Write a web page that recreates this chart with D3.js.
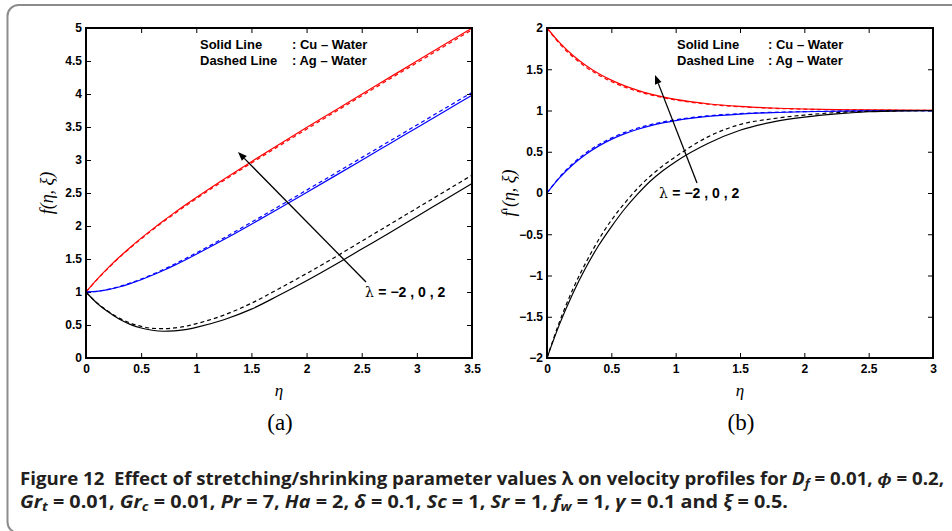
<!DOCTYPE html>
<html>
<head>
<meta charset="utf-8">
<script src="https://cdn.jsdelivr.net/npm/d3@7/dist/d3.min.js"></script>
<style>
  body { margin: 0; background: #fff; }
  svg { display: block; }
  .tick text { font-family: 'Liberation Sans', Arial, sans-serif; font-weight: bold; font-size: 12px; fill: #000; }
  .cap { white-space: pre; }
</style>
</head>
<body>
<svg id="chart" width="952" height="531"></svg>
<script>
// ---------- data ----------
const etaLeft = [0,0.1,0.2,0.3,0.4,0.5,0.6,0.7,0.8,0.9,1.0,1.25,1.5,1.75,2.0,2.25,2.5,2.75,3.0,3.25,3.5];
const fRedCu   = [1,1.191,1.365,1.526,1.675,1.816,1.949,2.077,2.199,2.317,2.432,2.709,2.975,3.235,3.491,3.744,3.997,4.248,4.499,4.749,5.0];
const fRedAg   = [1,1.188,1.359,1.518,1.665,1.804,1.936,2.062,2.183,2.300,2.414,2.689,2.953,3.212,3.467,3.720,3.972,4.223,4.473,4.723,4.973];
const fBlueCu  = [1,1.010,1.036,1.076,1.127,1.186,1.253,1.326,1.404,1.486,1.571,1.794,2.027,2.266,2.508,2.752,2.997,3.243,3.489,3.735,3.981];
const fBlueAg  = [1,1.011,1.039,1.081,1.134,1.196,1.265,1.340,1.420,1.505,1.592,1.819,2.056,2.298,2.543,2.789,3.036,3.283,3.530,3.777,4.024];
const fBlackCu = [1,0.83,0.70,0.59,0.51,0.455,0.42,0.405,0.41,0.43,0.465,0.58,0.74,0.95,1.17,1.405,1.65,1.895,2.145,2.395,2.645];
const fBlackAg = [1,0.835,0.71,0.605,0.53,0.48,0.45,0.445,0.455,0.48,0.52,0.65,0.83,1.05,1.28,1.52,1.77,2.02,2.27,2.52,2.77];

const etaRight = [0,0.1,0.2,0.3,0.4,0.5,0.6,0.7,0.8,0.9,1.0,1.25,1.5,1.75,2.0,2.25,2.5,2.75,3.0];
const dfRedCu   = [2,1.819,1.670,1.549,1.449,1.368,1.301,1.247,1.202,1.165,1.135,1.082,1.050,1.030,1.018,1.011,1.007,1.004,1.002];
const dfRedAg   = [2,1.805,1.652,1.530,1.431,1.351,1.286,1.234,1.191,1.156,1.127,1.076,1.046,1.027,1.016,1.010,1.006,1.003,1.002];
const dfBlueCu  = [0,0.189,0.343,0.467,0.568,0.650,0.716,0.770,0.814,0.849,0.878,0.928,0.957,0.975,0.985,0.991,0.995,0.997,0.998];
const dfBlueAg  = [0,0.197,0.356,0.483,0.585,0.667,0.732,0.785,0.827,0.861,0.888,0.935,0.962,0.978,0.987,0.992,0.996,0.998,0.999];
const dfBlackCu = [-2,-1.58,-1.22,-0.91,-0.64,-0.41,-0.2,-0.02,0.14,0.27,0.38,0.60,0.76,0.86,0.92,0.96,0.985,0.996,1.0];
const dfBlackAg = [-2,-1.55,-1.17,-0.85,-0.57,-0.33,-0.13,0.05,0.2,0.33,0.44,0.68,0.83,0.90,0.945,0.975,0.99,0.997,1.0];

const xTicksLeft  = [0,0.5,1,1.5,2,2.5,3,3.5];
const yTicksLeft  = [0,0.5,1,1.5,2,2.5,3,3.5,4,4.5,5];
const xTicksRight = [0,0.5,1,1.5,2,2.5,3];
const yTicksRight = [-2,-1.5,-1,-0.5,0,0.5,1,1.5,2];

const legendLines = [["Solid Line", ": Cu \u2013 Water"], ["Dashed Line", ": Ag \u2013 Water"]];
const lambdaText = "= \u22122 , 0 , 2";

// ---------- drawing ----------
const svg = d3.select("#chart");

// outer rounded frame
svg.append("rect").attr("x", 7.5).attr("y", 5).attr("width", 1000).attr("height", 528)
  .attr("rx", 11).attr("fill", "none").attr("stroke", "#8c8c8c").attr("stroke-width", 2);

function panel(cfg) {
  const g = svg.append("g");
  const x = d3.scaleLinear().domain(cfg.xDomain).range([cfg.x0, cfg.x1]);
  const y = d3.scaleLinear().domain(cfg.yDomain).range([cfg.y1, cfg.y0]);
  const fmt = d3.format("~g");

  const ax = (axis, tr) => {
    const a = g.append("g").attr("transform", tr).call(axis);
    a.select(".domain").remove();
    a.selectAll(".tick line").attr("stroke", "#000").attr("stroke-width", 1);
    return a;
  };
  ax(d3.axisBottom(x).tickValues(cfg.xTicks).tickSize(-5).tickPadding(6).tickFormat(fmt), `translate(0,${cfg.y1})`);
  ax(d3.axisTop(x).tickValues(cfg.xTicks).tickSize(-5).tickFormat(""), `translate(0,${cfg.y0})`);
  ax(d3.axisLeft(y).tickValues(cfg.yTicks).tickSize(-5).tickPadding(4).tickFormat(fmt), `translate(${cfg.x0},0)`);
  ax(d3.axisRight(y).tickValues(cfg.yTicks).tickSize(-5).tickFormat(""), `translate(${cfg.x1},0)`);

  const line = d3.line().x(d => x(d[0])).y(d => y(d[1])).curve(d3.curveMonotoneX);
  cfg.series.forEach(s => {
    g.append("path").datum(cfg.eta.map((e, i) => [e, s.v[i]]))
      .attr("d", line).attr("fill", "none").attr("stroke", s.c).attr("stroke-width", 1.2)
      .attr("stroke-dasharray", s.dash ? "4,3" : null);
  });

  g.append("rect").attr("x", cfg.x0).attr("y", cfg.y0).attr("width", cfg.x1 - cfg.x0).attr("height", cfg.y1 - cfg.y0)
    .attr("fill", "none").attr("stroke", "#000").attr("stroke-width", 2);

  // legend
  legendLines.forEach((l, i) => {
    const t = g.append("text").attr("y", 48.5 + i * 16)
      .style("font-family", "'Liberation Sans', Arial, sans-serif").style("font-weight", "bold").style("font-size", "13px");
    t.append("tspan").attr("x", cfg.legX).text(l[0]);
    t.append("tspan").attr("x", cfg.legX + cfg.colonDx).text(l[1]);
  });

  // arrow
  const [ax0, ay0, ax1, ay1] = cfg.arrow;
  const ang = Math.atan2(ay1 - ay0, ax1 - ax0);
  const hl = 9, hw = 3.5;
  const bx = ax1 - hl * Math.cos(ang), by = ay1 - hl * Math.sin(ang);
  g.append("line").attr("x1", ax0).attr("y1", ay0).attr("x2", bx).attr("y2", by).attr("stroke", "#000").attr("stroke-width", 1.3);
  g.append("path").attr("d", `M${ax1},${ay1}L${bx - hw * Math.sin(ang)},${by + hw * Math.cos(ang)}L${bx + hw * Math.sin(ang)},${by - hw * Math.cos(ang)}Z`).attr("fill", "#000");

  const lt = g.append("text").attr("x", cfg.lam[0]).attr("y", cfg.lam[1]).style("font-size", "14px");
  lt.append("tspan").style("font-family", "'DejaVu Serif', serif").text("\u03bb ");
  lt.append("tspan").style("font-family", "'Liberation Sans', Arial, sans-serif").style("font-weight", "bold").text(lambdaText);

  // axis labels
  g.append("text").attr("x", (cfg.x0 + cfg.x1) / 2).attr("y", 396).attr("text-anchor", "middle")
    .style("font-family", "'Liberation Serif', serif").style("font-style", "italic").style("font-size", "17px").text("\u03b7");
  const yl = g.append("text").attr("transform", `translate(${cfg.yLabX},${(cfg.y0 + cfg.y1) / 2}) rotate(-90)`).attr("text-anchor", "middle")
    .style("font-family", "'Liberation Serif', serif").style("font-style", "italic").style("font-size", "18px");
  cfg.yLabel.forEach(p => {
    const t = yl.append("tspan").text(p[1]);
    if (p[0] === "prime") t.style("font-family", "'DejaVu Sans', sans-serif").style("font-style", "normal").style("font-size", "16px");
  });
  g.append("text").attr("x", (cfg.x0 + cfg.x1) / 2 + 1).attr("y", 430).attr("text-anchor", "middle")
    .style("font-family", "'Liberation Serif', serif").style("font-size", "23px").text(cfg.tag);
}

panel({
  x0: 86, x1: 472, y0: 28, y1: 358, xDomain: [0, 3.5], yDomain: [0, 5],
  xTicks: xTicksLeft, yTicks: yTicksLeft, eta: etaLeft,
  series: [
    {v: fRedCu, c: "#ff0000"}, {v: fRedAg, c: "#ff0000", dash: true},
    {v: fBlueCu, c: "#0000ff"}, {v: fBlueAg, c: "#0000ff", dash: true},
    {v: fBlackCu, c: "#000"}, {v: fBlackAg, c: "#000", dash: true}
  ],
  legX: 200, colonDx: 92, arrow: [366, 282, 238, 152], lam: [365, 297],
  yLabX: 53, yLabel: [["t", "f(\u03b7, \u03be)"]], tag: "(a)"
});

panel({
  x0: 547, x1: 933, y0: 28, y1: 358, xDomain: [0, 3], yDomain: [-2, 2],
  xTicks: xTicksRight, yTicks: yTicksRight, eta: etaRight,
  series: [
    {v: dfRedCu, c: "#ff0000"}, {v: dfRedAg, c: "#ff0000", dash: true},
    {v: dfBlueCu, c: "#0000ff"}, {v: dfBlueAg, c: "#0000ff", dash: true},
    {v: dfBlackCu, c: "#000"}, {v: dfBlackAg, c: "#000", dash: true}
  ],
  legX: 677, colonDx: 91, arrow: [697, 183, 655, 75], lam: [659, 198],
  yLabX: 515, yLabel: [["t", "f"], ["prime", "'"], ["t", "(\u03b7, \u03be)"]], tag: "(b)"
});

// caption
const capFont = "'Liberation Sans Narrow', 'Open Sans', 'Liberation Sans', sans-serif";
const cap1 = svg.append("text").attr("class", "cap").attr("x", 20).attr("y", 485).attr("textLength", 924).attr("lengthAdjust", "spacingAndGlyphs")
  .style("font-family", capFont).style("font-weight", "bold").style("font-size", "17px").style("fill", "#231f20");
cap1.append("tspan").text("Figure 12  Effect of stretching/shrinking parameter values \u03bb on velocity profiles for ");
cap1.append("tspan").style("font-style", "italic").text("D");
cap1.append("tspan").style("font-style", "italic").style("font-size", "12px").attr("dy", 3).text("f");
cap1.append("tspan").attr("dy", -3).text(" = 0.01, ");
cap1.append("tspan").style("font-style", "italic").text("\u03d5");
cap1.append("tspan").text(" = 0.2,");

const cap2 = svg.append("text").attr("class", "cap").attr("x", 20).attr("y", 508).attr("textLength", 768).attr("lengthAdjust", "spacingAndGlyphs")
  .style("font-family", capFont).style("font-weight", "bold").style("font-size", "17px").style("fill", "#231f20");
const parts = [
  ["i", "Gr"], ["s", "t"], ["n", " = 0.01, "], ["i", "Gr"], ["s", "c"], ["n", " = 0.01, "],
  ["i", "Pr"], ["n", " = 7, "], ["i", "Ha"], ["n", " = 2, "], ["i", "\u03b4"], ["n", " = 0.1, "],
  ["i", "Sc"], ["n", " = 1, "], ["i", "Sr"], ["n", " = 1, "], ["i", "f"], ["s", "w"], ["n", " = 1, "],
  ["i", "\u03b3"], ["n", " = 0.1 and "], ["i", "\u03be"], ["n", " = 0.5."]
];
let prevSub = false;
parts.forEach(p => {
  const t = cap2.append("tspan").text(p[1]);
  if (p[0] === "i") t.style("font-style", "italic");
  if (p[0] === "s") { t.style("font-style", "italic").style("font-size", "12px").attr("dy", 3); prevSub = true; }
  else if (prevSub) { t.attr("dy", -3); prevSub = false; }
});
</script>
</body>
</html>
